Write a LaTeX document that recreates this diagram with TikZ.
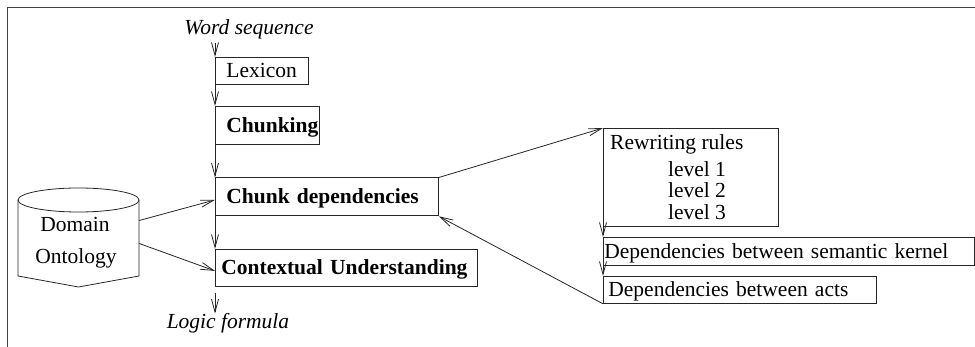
\documentclass[tikz,border=0pt]{standalone}
\usepackage{fontspec}
\setmainfont{Liberation Serif}
\usetikzlibrary{arrows.meta,calc}
\begin{document}
\begin{tikzpicture}[x=1pt,y=-1pt,
  every node/.style={font=\fontsize{21.5}{25}\selectfont},
  flow/.style={line width=0.8pt, black!85, -{Straight Barb[length=13pt,width=7pt]}},
  box/.style={draw=black!85, line width=0.8pt, rectangle, anchor=north west, inner ysep=0pt,
    text height=14pt, text depth=0pt, align=left},
  lbl/.style={anchor=base, inner sep=0pt}]
\useasboundingbox (0,0) rectangle (975,347);
\draw[black!75, line width=0.8pt] (975,7) -- (7,7) -- (7,347);

% main flow boxes
\node[box, inner xsep=11pt, text width=71pt, minimum height=27pt] (lex) at (215,57) {Lexicon};
\node[box, inner xsep=11pt, text width=82pt, minimum height=38pt, font=\fontsize{21.5}{25}\selectfont\bfseries] (chunk) at (215,106) {Chunking};
\node[box, inner xsep=11pt, text width=201pt, minimum height=38pt, font=\fontsize{21.5}{25}\selectfont\bfseries] (cd) at (215,177.5) {Chunk dependencies};
\node[box, inner xsep=6pt, text width=250pt, minimum height=37pt, font=\fontsize{21.5}{25}\selectfont\bfseries] (ctx) at (215,249) {Contextual Understanding};

% right boxes
\node[draw=black!85, line width=0.8pt, anchor=north west, minimum width=175pt, minimum height=98pt, inner sep=0pt] (rw) at (603,128) {};
\node[lbl, anchor=base west] (rwt) at (610,149.3) {Rewriting rules};
\node[lbl] (lv1) at (697,176.7) {level 1};
\node[lbl] (lv2) at (697,197.7) {level 2};
\node[lbl] (lv3) at (697,219.3) {level 3};
\node[box, inner xsep=1pt, text width=369pt, minimum height=28pt] (sem) at (603,237) {Dependencies between semantic kernel};
\node[box, inner xsep=5pt, text width=263pt, minimum height=27pt] (acts) at (603,276) {Dependencies between acts};

% input / output labels
\node[lbl, font=\fontsize{21.5}{25}\selectfont\itshape] (ws) at (249,35) {Word sequence};
\node[lbl, font=\fontsize{21.5}{25}\selectfont\itshape] (lf) at (228,329) {Logic formula};

% ontology cylinder
\draw[line width=0.8pt, black!85] (18,200) -- (18,276) -- (78.5,287) -- (139,276) -- (139,200);
\draw[line width=0.8pt, black!85] (78.5,200) ellipse [x radius=60.5, y radius=12];
\node[minimum width=121pt, minimum height=99pt, inner sep=0pt] (onto) at (78.5,237.5) {};
\node[lbl] (dom) at (75,232) {Domain};
\node[lbl] (ont) at (76,264) {Ontology};

% connectors
\draw[flow] ($(ws.south -| lex.west)+(0,3)$) -- (lex.north west);
\draw[flow] (lex.south west) -- (chunk.north west);
\draw[flow] (chunk.south west) -- (cd.north west);
\draw[flow] (cd.south west) -- (ctx.north west);
\draw[flow] ($(ctx.south west)+(0,6)$) -- (lf.north -| ctx.west);
\draw[flow] ($(onto.east)+(0,-17)$) -- ($(cd.west)+(0,3)$);
\draw[flow] ($(onto.east)+(0,6)$) -- ($(ctx.west)+(0,3)$);
\draw[flow] (cd.north east) -- (rw.north west);
\draw[flow] (rw.south west) -- (sem.north west);
\draw[flow] (sem.south west) -- (acts.north west);
\draw[flow] (acts.south west) -- (cd.south east);
\end{tikzpicture}
\end{document}
